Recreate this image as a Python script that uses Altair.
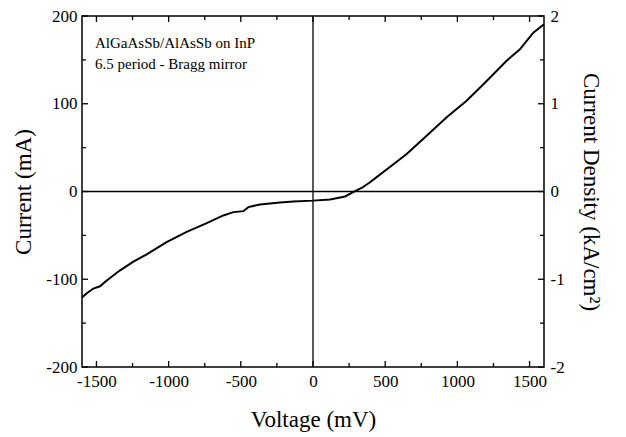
import altair as alt
import pandas as pd

voltage = [-1600, -1567, -1521, -1475, -1440, -1406, -1336, -1244, -1152, -1014, -875, -736,
           -621, -552, -482, -448, -367, -229, -136, 0, 118, 222, 291, 340, 395, 450, 510, 649, 787,
           926, 1064, 1203, 1341, 1433, 1526, 1600]
current = [-120.8, -116, -110.6, -108, -103, -98.5, -89.8, -80, -71.6, -57.6, -46, -36,
           -27.3, -23.5, -22.4, -17.8, -14.8, -12.5, -11.4, -10.4, -9.1, -5.7, 0.4, 4.3, 10.5, 17.5, 25,
           42.8, 63.6, 84.5, 103.4, 126, 149, 162, 181, 190.5]

x_major = [-1500, -1000, -500, 0, 500, 1000, 1500]
x_minor = [-1250, -750, -250, 250, 750, 1250]
y_major = [-200, -100, 0, 100, 200]
y_minor = [-150, -50, 50, 150]
note_lines = ["AlGaAsSb/AlAsSb on InP", "6.5 period - Bragg mirror"]
note_x = [-1510, -1510]
note_y = [163.6, 139.8]

W, H = 462, 351
FONT = "'Liberation Serif', 'Times New Roman', Times, 'DejaVu Serif', serif"

xs = alt.Scale(domain=[-1600, 1600], nice=False, zero=False)
ys = alt.Scale(domain=[-200, 200], nice=False, zero=False)

df = pd.DataFrame({"V": voltage, "I": current})

xaxis = alt.Axis(values=x_major, tickSize=0, domain=False, grid=False, labelFontSize=17,
                 labelFont=FONT, labelPadding=6, labelColor="black",
                 labelExpr="'' + datum.value", title="Voltage (mV)", titleFont=FONT,
                 titleFontSize=23, titleFontWeight="normal", titlePadding=19, titleColor="black")
yaxis = alt.Axis(values=y_major, tickSize=0, domain=False, grid=False, labelFontSize=17,
                 labelFont=FONT, labelPadding=5, labelColor="black",
                 labelExpr="'' + datum.value", title="Current (mA)", titleFont=FONT,
                 titleFontSize=23, titleFontWeight="normal", titlePadding=10, titleColor="black")
raxis = alt.Axis(values=y_major, orient="right", tickSize=0, domain=False, grid=False,
                 labelFontSize=17, labelFont=FONT, labelPadding=6, labelColor="black",
                 labelExpr="'' + (datum.value/100)", title="Current Density (kA/cm²)",
                 titleFont=FONT, titleFontSize=23, titleFontWeight="normal", titlePadding=14,
                 titleColor="black")


def X(field):
    return alt.X(field, scale=xs, axis=xaxis)


line = alt.Chart(df).mark_line(color="black", strokeWidth=2).encode(
    x=X("V:Q"),
    y=alt.Y("I:Q", scale=ys, axis=yaxis),
)
right = alt.Chart(df).mark_point(opacity=0).encode(
    x=X("V:Q"),
    y=alt.Y("I:Q", scale=ys, axis=raxis),
)

hzero = alt.Chart(pd.DataFrame({"y": [0]})).mark_rule(color="black", strokeWidth=1.3).encode(
    y=alt.Y("y:Q", scale=ys, axis=None))
vzero = alt.Chart(pd.DataFrame({"x": [0]})).mark_rule(color="black", strokeWidth=1.3).encode(
    x=X("x:Q"))


def xticks(vals, length):
    d = pd.DataFrame({"t": vals})
    b = alt.Chart(d).mark_rule(color="black", strokeWidth=1.3)
    bottom = b.encode(x=X("t:Q"), y=alt.value(H), y2=alt.value(H - length))
    top = b.encode(x=X("t:Q"), y=alt.value(0), y2=alt.value(length))
    return [bottom, top]


def yticks(vals, length):
    d = pd.DataFrame({"t": vals})
    b = alt.Chart(d).mark_rule(color="black", strokeWidth=1.3)
    left = b.encode(y=alt.Y("t:Q", scale=ys, axis=None), x=alt.value(0), x2=alt.value(length))
    rt = b.encode(y=alt.Y("t:Q", scale=ys, axis=None), x=alt.value(W), x2=alt.value(W - length))
    return [left, rt]


notes = alt.Chart(pd.DataFrame({"t": note_lines, "x": note_x, "y": note_y})).mark_text(
    align="left", baseline="alphabetic", font=FONT, fontSize=15, color="black").encode(
    x=X("x:Q"), y=alt.Y("y:Q", scale=ys, axis=None), text="t:N")

layers = [line, right, hzero, vzero] + xticks(x_major, 6) + xticks(x_minor, 4) \
    + yticks(y_major, 6) + yticks(y_minor, 4) + [notes]

chart = alt.layer(*layers).resolve_axis(y="independent").properties(
    width=W, height=H,
    autosize=alt.AutoSizeParams(type="none"),
    padding={"left": 74, "top": 8, "right": 74, "bottom": 70},
    background="white",
).configure_view(stroke="black", strokeWidth=1.5).configure_text(font=FONT).configure_axis(
    labelFont=FONT, titleFont=FONT)

chart.save("out.html", embed_options={"renderer": "svg", "actions": False})
